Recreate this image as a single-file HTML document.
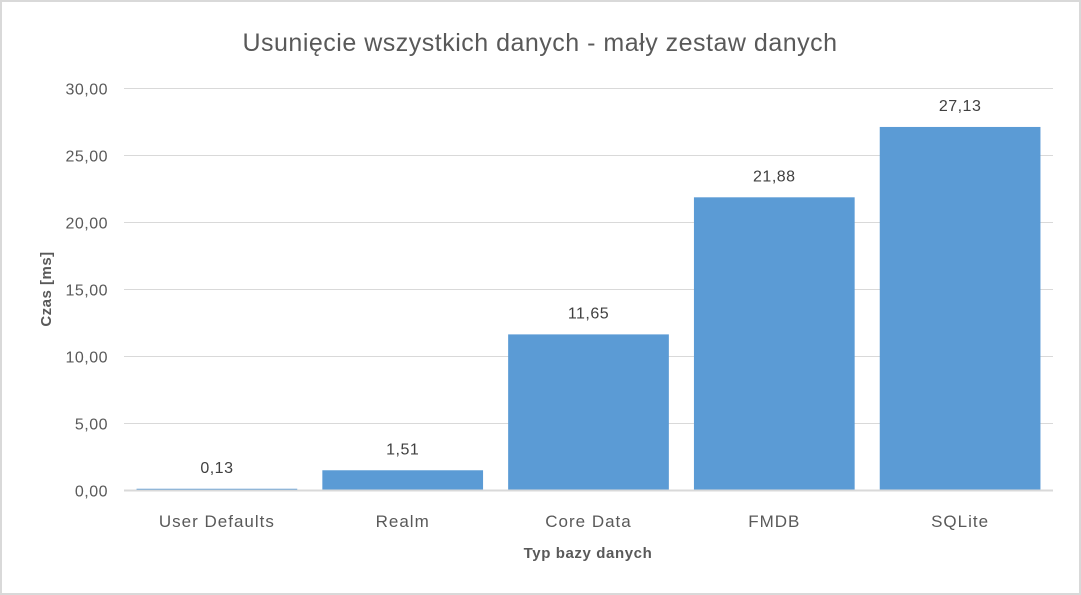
<!DOCTYPE html>
<html><head><meta charset="utf-8">
<style>
html,body{margin:0;padding:0;background:#fff;}
svg{display:block;font-family:"Liberation Sans",sans-serif;}
</style></head>
<body>
<svg id="chart" width="1081" height="595" viewBox="0 0 1081 595">
<rect x="1" y="1" width="1079" height="593" fill="#fff" stroke="#d9d9d9" stroke-width="2"/>
<text x="540" y="51" text-anchor="middle" font-size="25" letter-spacing="0.5" fill="#595959">Usunięcie wszystkich danych - mały zestaw danych</text>
<g id="grid"></g>
<g id="bars"></g>
<g id="labels"></g>
<text transform="translate(51,289) rotate(-90)" text-anchor="middle" font-size="15" letter-spacing="0.5" font-weight="bold" fill="#595959">Czas [ms]</text>
<text x="588" y="558" text-anchor="middle" font-size="15" letter-spacing="0.6" font-weight="bold" fill="#595959">Typ bazy danych</text>
</svg>
<script>
const categories = ["User Defaults","Realm","Core Data","FMDB","SQLite"];
const values = [0.13,1.51,11.65,21.88,27.13];
const valueLabels = ["0,13","1,51","11,65","21,88","27,13"];
const yTicks = [0,5,10,15,20,25,30];
const yTickLabels = ["0,00","5,00","10,00","15,00","20,00","25,00","30,00"];

const NS="http://www.w3.org/2000/svg";
const plotL=124, plotR=1053, y0=490.5, yTop=88.5, yMax=30;
const yScale=v=>y0-(v/yMax)*(y0-yTop);
const band=(plotR-plotL)/categories.length;
const xCenter=i=>plotL+band*(i+0.5);
const barW=band*0.865;
function mk(tag,attrs,parent){const e=document.createElementNS(NS,tag);for(const k in attrs)e.setAttribute(k,attrs[k]);parent.appendChild(e);return e;}
const grid=document.getElementById('grid'),bars=document.getElementById('bars'),labels=document.getElementById('labels');
yTicks.forEach((t,i)=>{
  const y=yScale(t);
  const l=mk('line',{x1:plotL,x2:plotR,y1:y,y2:y,stroke:'#d9d9d9','stroke-width':t===0?2:1},grid);
  
  
  const tx=mk('text',{x:108,y:y+6,'text-anchor':'end','font-size':16,'letter-spacing':0.5,fill:'#595959'},grid);
  tx.textContent=yTickLabels[i];
  
  
});
categories.forEach((c,i)=>{
  const cx=xCenter(i), y=yScale(values[i]);
  const r=mk('rect',{x:cx-barW/2,y:y,width:barW,height:Math.max(y0-1-y,0.8),fill:'#5b9bd5'},bars);
  
  
  const v=mk('text',{x:cx,y:y-16,'text-anchor':'middle','font-size':16,'letter-spacing':0.5,fill:'#404040'},labels);
  v.textContent=valueLabels[i];
  
  
  const xl=mk('text',{x:cx,y:527,'text-anchor':'middle','font-size':17,'letter-spacing':1,fill:'#595959'},labels);
  xl.textContent=c;
  
  
});
</script>
</body></html>
